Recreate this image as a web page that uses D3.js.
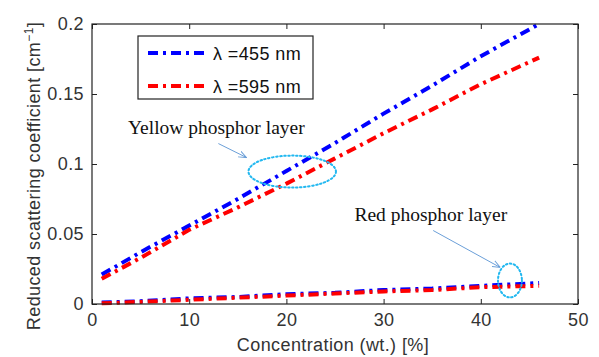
<!DOCTYPE html>
<html>
<head>
<meta charset="utf-8">
<script src="https://cdn.jsdelivr.net/npm/d3@7"></script>
<style>
  body { margin: 0; background: #fff; }
  svg { display: block; }
</style>
</head>
<body>
<div id="chart"></div>
<script>
const width = 599;
const height = 357;

// data
const concentration = [1, 5, 10, 15, 20, 25, 30, 35, 40, 46];
const yellow455 = [0.021, 0.037, 0.056, 0.075, 0.095, 0.115, 0.136, 0.156, 0.177, 0.200];
const yellow595 = [0.018, 0.033, 0.053, 0.069, 0.086, 0.104, 0.122, 0.139, 0.157, 0.176];
const red455 = [0.001, 0.002, 0.004, 0.005, 0.007, 0.008, 0.010, 0.011, 0.013, 0.015];
const red595 = [0.0005, 0.0015, 0.003, 0.0045, 0.006, 0.0075, 0.009, 0.010, 0.012, 0.013];
const xTicks = [0, 10, 20, 30, 40, 50];
const yTicks = [0, 0.05, 0.1, 0.15, 0.2];
const legendLabels = ["\u03BB =455 nm", "\u03BB =595 nm"];
const colors = ["#0000ff", "#ff0000"];

const margin = {top: 24, right: 21, bottom: 53, left: 92};

const svg = d3.select("#chart")
  .append("svg")
  .attr("width", width)
  .attr("height", height);

const x = d3.scaleLinear().domain([0, 50]).range([margin.left, width - margin.right]);
const y = d3.scaleLinear().domain([0, 0.2]).range([height - margin.bottom, margin.top]);

// series, blue drawn first so red sits on top
const series = [
  {vals: yellow455, c: 0},
  {vals: red455, c: 0},
  {vals: yellow595, c: 1},
  {vals: red595, c: 1}
];

const line = d3.line()
  .x((d, i) => x(concentration[i]))
  .y(d => y(d));

svg.append("g")
  .selectAll("path")
  .data(series)
  .join("path")
  .attr("fill", "none")
  .attr("stroke", d => colors[d.c])
  .attr("stroke-width", 4)
  .attr("stroke-dasharray", "10,5,3,5")
  .attr("d", d => line(d.vals));

// axes, matlab style box with inward ticks
const tickFont = "Arial, 'Liberation Sans', sans-serif";
const axisColor = "#222";

svg.append("g")
  .attr("transform", `translate(0,${y(0)})`)
  .call(d3.axisBottom(x).tickValues(xTicks).tickSizeInner(-5).tickSizeOuter(0).tickPadding(9))
  .call(g => g.select(".domain").remove());

svg.append("g")
  .attr("transform", `translate(0,${y(0.2)})`)
  .call(d3.axisTop(x).tickValues(xTicks).tickSizeInner(-5).tickSizeOuter(0).tickFormat(""))
  .call(g => g.select(".domain").remove());

svg.append("g")
  .attr("transform", `translate(${x(0)},0)`)
  .call(d3.axisLeft(y).tickValues(yTicks).tickSizeInner(-5).tickSizeOuter(0).tickPadding(8).tickFormat(d3.format("")))
  .call(g => g.select(".domain").remove());

svg.append("g")
  .attr("transform", `translate(${x(50)},0)`)
  .call(d3.axisRight(y).tickValues(yTicks).tickSizeInner(-5).tickSizeOuter(0).tickFormat(""))
  .call(g => g.select(".domain").remove());

svg.selectAll(".tick line").attr("stroke", axisColor);
svg.selectAll(".tick text")
  .attr("font-family", tickFont)
  .attr("font-size", 18)
  .attr("letter-spacing", 0.4)
  .attr("fill", "#333");

svg.append("rect")
  .attr("x", x(0))
  .attr("y", y(0.2))
  .attr("width", x(50) - x(0))
  .attr("height", y(0) - y(0.2))
  .attr("fill", "none")
  .attr("stroke", axisColor)
  .attr("stroke-width", 1.2);

// axis labels
svg.append("text")
  .attr("x", (x(0) + x(50)) / 2 - 2)
  .attr("y", 351)
  .attr("text-anchor", "middle")
  .attr("font-family", tickFont)
  .attr("font-size", 18)
  .attr("letter-spacing", 0.4)
  .attr("fill", "#333")
  .text("Concentration (wt.) [%]");

const yLabel = svg.append("text")
  .attr("transform", "translate(40,176) rotate(-90)")
  .attr("text-anchor", "middle")
  .attr("font-family", tickFont)
  .attr("font-size", 18)
  .attr("letter-spacing", 0.4)
  .attr("fill", "#333");
yLabel.append("tspan").text("Reduced scattering coefficient [cm");
yLabel.append("tspan").attr("dy", -7).attr("font-size", 12).text("\u22121");
yLabel.append("tspan").attr("dy", 7).text("]");

// legend
const legend = svg.append("g").attr("transform", "translate(138,36)");
legend.append("rect")
  .attr("width", 175)
  .attr("height", 63)
  .attr("fill", "#fff")
  .attr("stroke", axisColor)
  .attr("stroke-width", 1.2);

const rows = legend.selectAll("g.row")
  .data(legendLabels)
  .join("g")
  .attr("class", "row")
  .attr("transform", (d, i) => `translate(0,${17 + i * 33})`);

rows.append("line")
  .attr("x1", 10).attr("x2", 66)
  .attr("stroke", (d, i) => colors[i])
  .attr("stroke-width", 4)
  .attr("stroke-dasharray", "10,5,3,5");

rows.append("text")
  .attr("x", 75)
  .attr("y", 6.5)
  .attr("font-family", tickFont)
  .attr("font-size", 18)
  .attr("letter-spacing", 0.4)
  .attr("fill", "#111")
  .text(d => d);

// annotations, placed in data units
const noteLabels = ["Yellow phosphor layer", "Red phosphor layer"];
const noteText = [[3.7, 0.1215], [27.0, 0.059]];
const noteArrow = [[13.0, 0.1146, 15.9, 0.1046], [35.1, 0.0525, 42.0, 0.0261]];
const noteEllipse = [[20.6, 0.0946, 4.5, 0.0114], [43.0, 0.0168, 1.23, 0.0121]];

svg.append("defs").append("marker")
  .attr("id", "arr")
  .attr("viewBox", "0 0 10 10")
  .attr("refX", 10).attr("refY", 5)
  .attr("markerWidth", 8).attr("markerHeight", 8)
  .attr("orient", "auto")
  .append("path")
  .attr("d", "M0,1 L10,5 L0,9")
  .attr("fill", "none")
  .attr("stroke", "#6b9fd8")
  .attr("stroke-width", 1.2);

svg.selectAll("text.note")
  .data(noteLabels)
  .join("text")
  .attr("class", "note")
  .attr("x", (d, i) => x(noteText[i][0]))
  .attr("y", (d, i) => y(noteText[i][1]))
  .attr("font-family", "'Liberation Serif', 'Times New Roman', serif")
  .attr("font-size", 19.5)
  .attr("fill", "#111")
  .text(d => d);

svg.selectAll("line.arrow")
  .data(noteArrow)
  .join("line")
  .attr("class", "arrow")
  .attr("x1", d => x(d[0])).attr("y1", d => y(d[1]))
  .attr("x2", d => x(d[2])).attr("y2", d => y(d[3]))
  .attr("stroke", "#6b9fd8")
  .attr("stroke-width", 1)
  .attr("marker-end", "url(#arr)");

svg.selectAll("ellipse.mark")
  .data(noteEllipse)
  .join("ellipse")
  .attr("class", "mark")
  .attr("cx", d => x(d[0]))
  .attr("cy", d => y(d[1]))
  .attr("rx", d => x(d[2]) - x(0))
  .attr("ry", d => y(0) - y(d[3]))
  .attr("fill", "none")
  .attr("stroke", "#22b8f0")
  .attr("stroke-width", 2)
  .attr("stroke-dasharray", "1.5,2.5")
  .attr("stroke-linecap", "round");
</script>
</body>
</html>
